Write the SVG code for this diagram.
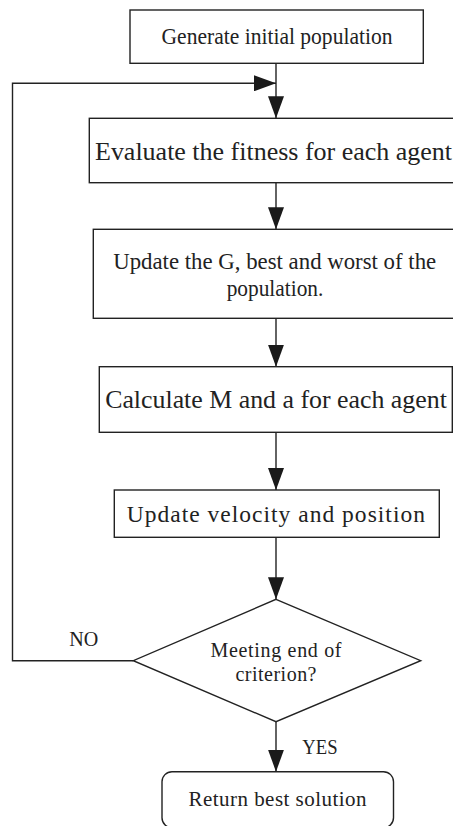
<svg xmlns="http://www.w3.org/2000/svg" width="453" height="826" viewBox="0 0 453 826">
<style>
.box{fill:#fff;stroke:#222;stroke-width:1.4}
.ln{fill:none;stroke:#222;stroke-width:1.4}
text{font-family:"Liberation Serif","Times New Roman",serif;fill:#222;text-anchor:middle}
</style>
<defs>
<marker id="ah" markerUnits="userSpaceOnUse" markerWidth="22" markerHeight="16" refX="22" refY="8" orient="auto">
<path d="M0,0 L22,8 L0,16 Z" fill="#1a1a1a"/>
</marker>
</defs>
<rect width="453" height="826" fill="#fff"/>
<g id="connectors">
<line class="ln" x1="276" y1="63.3" x2="276" y2="118.3" marker-end="url(#ah)"/>
<polyline class="ln" points="133.3,660.7 12.5,660.7 12.5,83.3 276,83.3" marker-end="url(#ah)"/>
<line class="ln" x1="276" y1="182.7" x2="276" y2="229.3" marker-end="url(#ah)"/>
<line class="ln" x1="276" y1="318.3" x2="276" y2="366.7" marker-end="url(#ah)"/>
<line class="ln" x1="276" y1="432.3" x2="276" y2="490" marker-end="url(#ah)"/>
<line class="ln" x1="276" y1="537.3" x2="276" y2="599.3" marker-end="url(#ah)"/>
<line class="ln" x1="276" y1="721.7" x2="276" y2="771.7" marker-end="url(#ah)"/>
<text x="83.7" y="645.7" font-size="20" textLength="29" lengthAdjust="spacingAndGlyphs">NO</text>
<text x="320" y="754.3" font-size="20" textLength="35.3" lengthAdjust="spacingAndGlyphs">YES</text>
</g>
<g id="n1">
<rect class="box" x="130" y="10" width="293.3" height="53.3"/>
<text x="277" y="44" font-size="23" textLength="231" lengthAdjust="spacingAndGlyphs">Generate initial population</text>
</g>
<g id="n2">
<rect class="box" x="89.3" y="118.3" width="373.4" height="64.4"/>
<text x="273.5" y="160" font-size="26" textLength="357" lengthAdjust="spacing">Evaluate the fitness for each agent</text>
</g>
<g id="n3">
<rect class="box" x="93.3" y="229.3" width="365.4" height="89"/>
<text x="274.7" y="269" font-size="23" textLength="323" lengthAdjust="spacingAndGlyphs">Update the G, best and worst of the</text>
<text x="275" y="296" font-size="23" textLength="96.7" lengthAdjust="spacingAndGlyphs">population.</text>
</g>
<g id="n4">
<rect class="box" x="99.3" y="366.7" width="353" height="65.6"/>
<text x="276" y="407.5" font-size="26" textLength="341.7" lengthAdjust="spacingAndGlyphs">Calculate M and a for each agent</text>
</g>
<g id="n5">
<rect class="box" x="114.3" y="490" width="325" height="47.3"/>
<text x="275.8" y="521.7" font-size="23.5" textLength="298.3" lengthAdjust="spacing">Update velocity and position</text>
</g>
<g id="n6">
<polygon class="box" points="276,599.3 420.7,660.7 276,721.7 133.3,660.7"/>
<text x="276" y="656.7" font-size="20" textLength="131" lengthAdjust="spacing">Meeting end of</text>
<text x="276" y="681" font-size="20" textLength="81" lengthAdjust="spacing">criterion?</text>
</g>
<g id="n7">
<rect class="box" x="162" y="771.7" width="231.5" height="56" rx="10" ry="10"/>
<text x="277.5" y="806" font-size="21" textLength="178" lengthAdjust="spacing">Return best solution</text>
</g>
</svg>
